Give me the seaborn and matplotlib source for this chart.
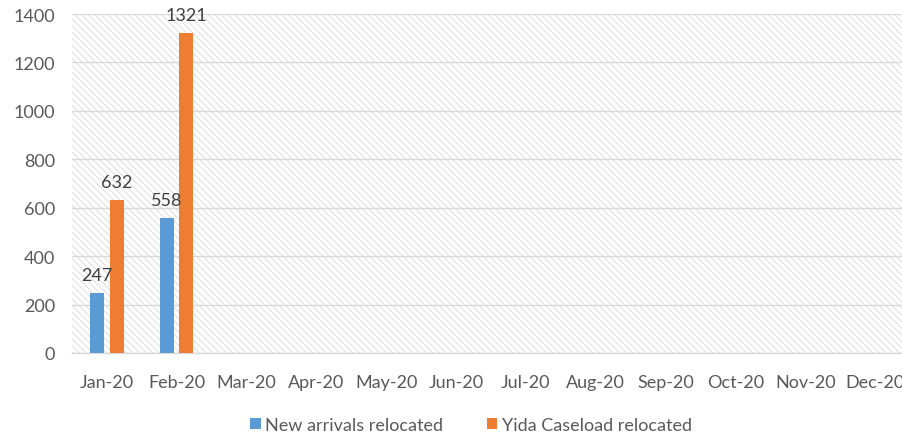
import matplotlib
matplotlib.use("Agg")
import matplotlib.pyplot as plt
import seaborn as sns
import pandas as pd
from matplotlib.patches import Rectangle

months = ["Jan-20", "Feb-20", "Mar-20", "Apr-20", "May-20", "Jun-20",
          "Jul-20", "Aug-20", "Sep-20", "Oct-20", "Nov-20", "Dec-20"]
new_arrivals = [247, 558, None, None, None, None, None, None, None, None, None, None]
yida = [632, 1321, None, None, None, None, None, None, None, None, None, None]
series_names = ["New arrivals relocated", "Yida Caseload relocated"]
colors = ["#5b9bd5", "#ed7d31"]
yticks = [0, 200, 400, 600, 800, 1000, 1200, 1400]

rows = []
for m, a, b in zip(months, new_arrivals, yida):
    rows.append({"month": m, "series": series_names[0], "value": a})
    rows.append({"month": m, "series": series_names[1], "value": b})
df = pd.DataFrame(rows)

sns.set_theme(style="white")
plt.rcParams["font.family"] = ["Lato", "DejaVu Sans"]
plt.rcParams["hatch.linewidth"] = 0.7

fig = plt.figure(figsize=(9.03, 4.35), dpi=100)
ax = fig.add_axes([72 / 903, (435 - 354) / 435, 838 / 903, 339 / 435])

# hatched background
bg = Rectangle((0, 0), 1, 1, transform=ax.transAxes, facecolor="white",
               edgecolor="#dddddd", hatch="\\\\\\\\\\", linewidth=0, zorder=0)
ax.add_patch(bg)

sns.barplot(data=df, x="month", y="value", hue="series", order=months,
            hue_order=series_names, palette=colors, width=0.55, gap=0.27,
            saturation=1, linewidth=0, ax=ax, zorder=3, legend=True)

for cont in ax.containers:
    labels = ["" if (v != v or v == 0) else f"{int(v)}" for v in cont.datavalues]
    ax.bar_label(cont, labels=labels, padding=7, fontsize=13, color="#404040")

ax.set_ylim(0, 1400)
ax.set_yticks(yticks)
ax.set_xlim(-0.5, 11.5)
ax.yaxis.grid(True, color="#d9d9d9", linewidth=1, zorder=1)
ax.set_axisbelow(True)
for s in ["left", "right", "top"]:
    ax.spines[s].set_visible(False)
ax.spines["bottom"].set_color("#d9d9d9")
ax.spines["bottom"].set_linewidth(1)
ax.set_xticks([i - 0.5 for i in range(13)], minor=True)
ax.tick_params(axis="x", which="minor", length=7, color="#d9d9d9", width=1, direction="out")
ax.tick_params(axis="x", which="major", length=0, pad=15, labelsize=13, labelcolor="#595959")
ax.tick_params(axis="y", length=0, pad=12, labelsize=13, labelcolor="#595959")
ax.set_xlabel("")
ax.set_ylabel("")

leg = ax.legend(loc="center", bbox_to_anchor=(0.476, -0.212),
                bbox_transform=ax.transAxes, ncol=2, frameon=False, fontsize=13,
                handlelength=0.6, handleheight=0.6, handletextpad=0.25, columnspacing=2.4)
for t in leg.get_texts():
    t.set_color("#595959")

fig.savefig("out.png", dpi=100)
